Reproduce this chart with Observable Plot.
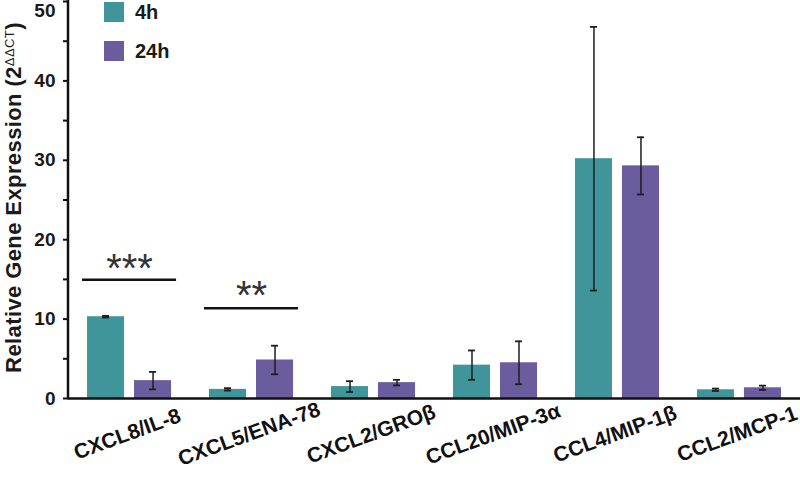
<!DOCTYPE html>
<html>
<head>
<meta charset="utf-8">
<script src="https://cdn.jsdelivr.net/npm/d3@7"></script>
<script src="https://cdn.jsdelivr.net/npm/@observablehq/plot@0.6"></script>
<style>
  body { margin: 0; background: #fff; }
  #wrap { position: relative; width: 800px; height: 478px; font-family: "Liberation Sans", Arial, Helvetica, sans-serif; }
  .legend { position: absolute; left: 104px; top: 2px; }
  .legend .row { display: flex; align-items: center; height: 20px; margin-bottom: 19px; }
  .legend .sw { width: 20px; height: 20px; margin-right: 11px; }
  .legend .lab { font-weight: bold; font-size: 20px; color: #1a1a1a; }
</style>
</head>
<body>
<div id="wrap"></div>
<script>
const genes = ["CXCL8/IL-8", "CXCL5/ENA-78", "CXCL2/GROβ", "CCL20/MIP-3α", "CCL4/MIP-1β", "CCL2/MCP-1"];
const series = ["4h", "24h"];
const seriesColors = ["#40959b", "#6b5d9d"];
const mean4h = [10.3, 1.15, 1.5, 4.2, 30.2, 1.1];
const err4h = [0.1, 0.15, 0.68, 1.85, 16.6, 0.15];
const mean24h = [2.25, 4.85, 2.0, 4.5, 29.3, 1.35];
const err24h = [1.1, 1.8, 0.35, 2.7, 3.6, 0.27];
const majorTicks = [0, 10, 20, 30, 40];
const topTick = [50];
const minorTicks = [5, 15, 25, 35, 45];
const sigGenes = ["CXCL8/IL-8", "CXCL5/ENA-78"];
const sigLineY = [14.95, 11.37];
const sigStars = ["***", "**"];
const sigStarY = [17.5, 14.1];

const d4 = genes.map((g, i) => ({gene: g, value: mean4h[i], lo: mean4h[i] - err4h[i], hi: mean4h[i] + err4h[i]}));
const d24 = genes.map((g, i) => ({gene: g, value: mean24h[i], lo: mean24h[i] - err24h[i], hi: mean24h[i] + err24h[i]}));
const sig = sigGenes.map((g, i) => ({gene: g, line: sigLineY[i], stars: sigStars[i], starY: sigStarY[i]}));

const barInset = 47;
const errShift = 23.5;
const capIn = 15, capOut = 62;
const errStroke = "#1e1e1e";
const font = '"Liberation Sans", Arial, Helvetica, sans-serif';

const plot = Plot.plot({
  width: 800,
  height: 478,
  marginLeft: 68,
  marginRight: 0,
  marginTop: 1,
  marginBottom: 80,
  style: {fontFamily: font, background: "#fff"},
  x: {domain: genes, paddingInner: 0.311, paddingOuter: 0.156, round: false, axis: null},
  y: {domain: [0, 50], axis: null},
  marks: [
    Plot.barY(d4, {x: "gene", y: "value", fill: seriesColors[0], insetRight: barInset}),
    Plot.barY(d24, {x: "gene", y: "value", fill: seriesColors[1], insetLeft: barInset}),
    Plot.ruleX(d4, {x: "gene", y1: "lo", y2: "hi", dx: -errShift, stroke: errStroke, strokeWidth: 1.5}),
    Plot.ruleX(d24, {x: "gene", y1: "lo", y2: "hi", dx: errShift, stroke: errStroke, strokeWidth: 1.5}),
    Plot.tickY(d4, {x: "gene", y: "hi", insetLeft: capIn, insetRight: capOut, stroke: errStroke, strokeWidth: 1.8}),
    Plot.tickY(d4, {x: "gene", y: "lo", insetLeft: capIn, insetRight: capOut, stroke: errStroke, strokeWidth: 1.8}),
    Plot.tickY(d24, {x: "gene", y: "hi", insetLeft: capOut, insetRight: capIn, stroke: errStroke, strokeWidth: 1.8}),
    Plot.tickY(d24, {x: "gene", y: "lo", insetLeft: capOut, insetRight: capIn, stroke: errStroke, strokeWidth: 1.8}),
    Plot.ruleY(sig, {x1: "gene", x2: "gene", y: "line", insetLeft: -5, insetRight: -5, stroke: "#111", strokeWidth: 2.6}),
    Plot.text(sig, {x: "gene", y: "starY", text: "stars", fontSize: 40, dy: 10, fill: "#333", fontWeight: "normal"}),
    Plot.ruleY([0], {stroke: "#111", strokeWidth: 2.5}),
    Plot.axisY({ticks: majorTicks, tickSize: 5, tickPadding: 8, strokeWidth: 2, stroke: "#111", fontSize: 19, fontWeight: "bold", fill: "#1a1a1a", label: null}),
    Plot.axisY({ticks: topTick, tickSize: 5, strokeWidth: 2, stroke: "#111", tickFormat: () => "", label: null}),
    Plot.text(topTick, {y: d => d, frameAnchor: "left", dx: -13, dy: 9, textAnchor: "end", fontSize: 19, fontWeight: "bold", fill: "#1a1a1a"}),
    Plot.axisY({ticks: minorTicks, tickSize: 5, strokeWidth: 2, stroke: "#111", tickFormat: () => "", label: null}),
    Plot.text(genes, {x: d => d, frameAnchor: "bottom", dy: 42, rotate: -20, fontSize: 21, fontWeight: "bold", fill: "#111", textAnchor: "middle"})
  ]
});

const ys = plot.scale("y");
const xs = plot.scale("x");
const svg = d3.select(plot);
svg.append("line")
  .attr("x1", xs.range[0]).attr("x2", xs.range[0])
  .attr("y1", ys.apply(0) + 1.25).attr("y2", ys.apply(50) - 1)
  .attr("stroke", "#111").attr("stroke-width", 2.5);

const lab = svg.append("text")
  .attr("transform", `translate(20.5,${(ys.apply(0) + ys.apply(50)) / 2 - 2}) rotate(-90)`)
  .attr("text-anchor", "middle")
  .attr("font-family", font)
  .attr("font-size", 22)
  .attr("font-weight", "bold")
  .attr("letter-spacing", 0.4)
  .attr("fill", "#1a1a1a");
lab.append("tspan").text("Relative Gene Expression (2");
lab.append("tspan").attr("font-size", 13).attr("font-weight", "normal").attr("dy", -7).text("ΔΔCT");
lab.append("tspan").attr("dy", 7).text(")");

const wrap = document.getElementById("wrap");
wrap.appendChild(plot);

const legend = document.createElement("div");
legend.className = "legend";
series.forEach((s, i) => {
  const row = document.createElement("div");
  row.className = "row";
  const sw = document.createElement("div");
  sw.className = "sw";
  sw.style.background = seriesColors[i];
  const t = document.createElement("span");
  t.className = "lab";
  t.textContent = s;
  row.appendChild(sw);
  row.appendChild(t);
  legend.appendChild(row);
});
wrap.appendChild(legend);
</script>
</body>
</html>
